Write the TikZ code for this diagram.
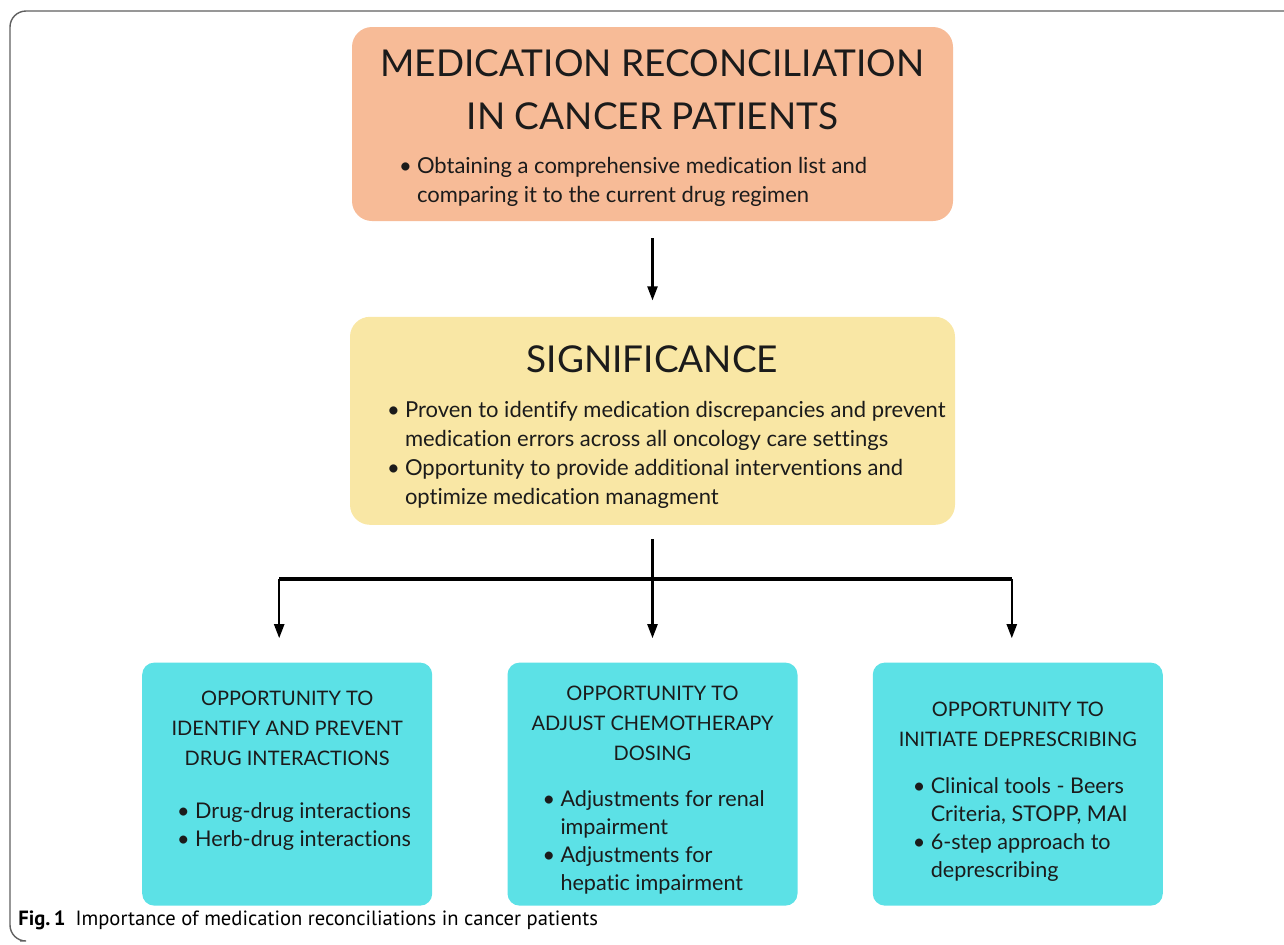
\documentclass[tikz,border=0pt]{standalone}
\usepackage{fontspec}
\setmainfont{Lato}[Ligatures={NoCommon}]
\newfontfamily\capfont{PT Sans}
\usetikzlibrary{positioning,calc,arrows.meta}
\definecolor{reconOrange}{RGB}{247,187,151}
\definecolor{signYellow}{RGB}{249,231,165}
\definecolor{oppCyan}{RGB}{92,225,230}
\definecolor{inkGray}{RGB}{27,27,27}
\definecolor{frameGray}{RGB}{95,95,95}
\newcommand{\itm}{\makebox[9pt][l]{\textbullet}}
\newcommand{\ind}{\hspace*{9pt}}

\begin{document}
\begin{tikzpicture}[x=0.5pt, y=-0.5pt,
    box/.style={rectangle, inner sep=0pt},
    recbox/.style={box, rounded corners=10pt, fill=reconOrange, minimum width=300.5pt, minimum height=97pt},
    sigbox/.style={box, rounded corners=10pt, fill=signYellow, minimum width=302.5pt, minimum height=104pt},
    oppbox/.style={box, rounded corners=6pt, fill=oppCyan, minimum width=145pt, minimum height=121.5pt},
    bigtitle/.style={inner sep=0pt, anchor=north, align=center, text=inkGray, font=\fontsize{18.5}{26.5}\selectfont},
    head/.style={inner sep=0pt, anchor=north, align=center, text=inkGray, font=\fontsize{10}{15}\selectfont},
    blist/.style={inner sep=0pt, anchor=north west, align=left, text=inkGray, font=\fontsize{11}{14.5}\selectfont},
    oplist/.style={blist, font=\fontsize{10.8}{14}\selectfont},
    line/.style={draw=black, line width=1.1pt, -{Triangle[width=5pt,length=7pt]}},
    bus/.style={draw=black, line width=2pt}]

    \useasboundingbox (0,0) rectangle (1284,944);
    \draw[frameGray, line width=0.7pt, rounded corners=8pt] (20,941) -- (10,941) -- (10,11) -- (1284,11);

    \node [recbox] (recon) at (652.5,124) {};
    \node [sigbox, below=47.5pt of recon] (sig) {};
    \node [oppbox, below=68.5pt of sig] (dose) {};
    \node [oppbox, left=37.25pt of dose] (drug) {};
    \node [oppbox, right=37.25pt of dose] (depr) {};

    \node [bigtitle] (recontitle) at ($(recon.north)+(0,23)$) {MEDICATION RECONCILIATION\\IN CANCER PATIENTS};
    \node [blist] (reconlist) at ($(recon.north west)+(47,130)$) {\itm Obtaining a comprehensive medication list and\\\ind comparing it to the current drug regimen};

    \node [bigtitle] (sigtitle) at ($(sig.north)+(0,29)$) {SIGNIFICANCE};
    \node [blist] (siglist) at ($(sig.north west)+(37,84)$) {\itm Proven to identify medication discrepancies and prevent\\\ind medication errors across all oncology care settings\\\itm Opportunity to provide additional interventions and\\\ind optimize medication managment};

    \node [head] (drughead) at ($(drug.north)+(0,28)$) {OPPORTUNITY TO\\IDENTIFY AND PREVENT\\DRUG INTERACTIONS};
    \node [oplist] (druglist) at ($(drug.north west)+(35,140)$) {\itm Drug-drug interactions\\\itm Herb-drug interactions};
    \node [head] (dosehead) at ($(dose.north)+(0,23)$) {OPPORTUNITY TO\\ADJUST CHEMOTHERAPY\\DOSING};
    \node [oplist] (doselist) at ($(dose.north west)+(35,128)$) {\itm Adjustments for renal\\\ind impairment\\\itm Adjustments for\\\ind hepatic impairment};
    \node [head] (deprhead) at ($(depr.north)+(0,39)$) {OPPORTUNITY TO\\INITIATE DEPRESCRIBING};
    \node [oplist] (deprlist) at ($(depr.north west)+(40,115)$) {\itm Clinical tools - Beers\\\ind Criteria, STOPP, MAI\\\itm 6-step approach to\\\ind deprescribing};

    \node [anchor=base west, inner sep=0pt, font=\capfont\fontsize{10.3}{12}\selectfont] (caption) at (18,925) {\textbf{Fig.\,1}\hspace{5pt}Importance of medication reconciliations in cancer patients};

    % connectors
    \coordinate (hub) at ($(sig.south)+(0,54)$);
    \coordinate (busL) at ($(hub -| drug.north)+(-8,0)$);
    \coordinate (busR) at ($(hub -| depr.north)+(-6,0)$);
    \path [line, shorten <=8.5pt, shorten >=8pt] (recon.south) -- (sig.north);
    \path [draw, line width=1.1pt, shorten <=7pt] (sig.south) -- (hub);
    \path [bus] (busL) -- (busR);
    \path [line, shorten >=12pt] (busL) -- (busL |- drug.north);
    \path [line, shorten >=12pt] (hub) -- (hub |- dose.north);
    \path [line, shorten >=12pt] (busR) -- (busR |- depr.north);
\end{tikzpicture}
\end{document}
